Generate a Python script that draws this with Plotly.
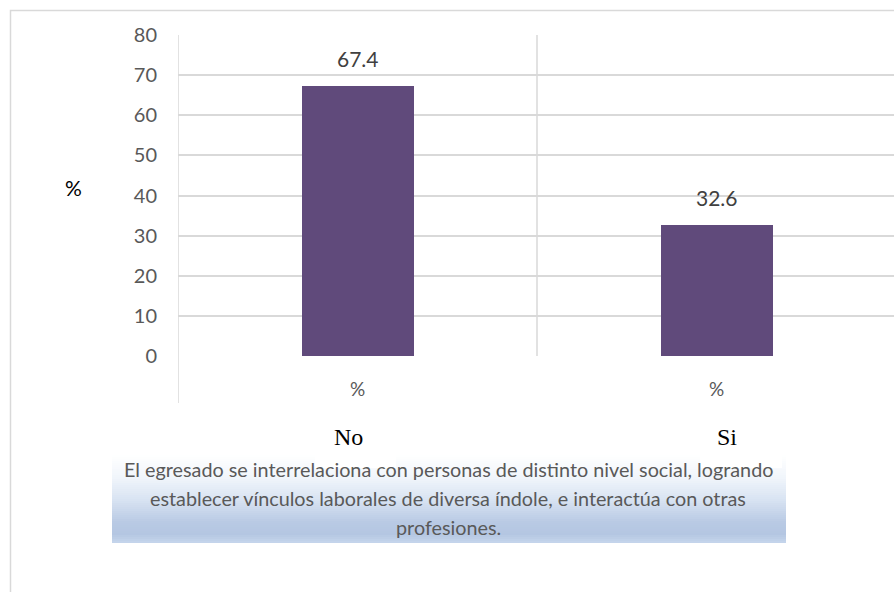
import plotly.graph_objects as go

categories = ["No", "Si"]
inner_labels = ["%", "%"]
values = [67.4, 32.6]
value_labels = ["67.4", "32.6"]
y_ticks = [0, 10, 20, 30, 40, 50, 60, 70, 80]
y_title = "%"
caption_lines = [
    "El egresado se interrelaciona con personas de distinto nivel social, logrando",
    "establecer vínculos laborales de diversa índole, e interactúa con otras",
    "profesiones.",
]

W, H = 894, 592
def px(x):
    return x / W
def py(y):
    return 1 - y / H

GRID = "#D9D9D9"
FONT = "Lato"
xs = list(range(len(categories)))

fig = go.Figure()
fig.add_trace(go.Bar(
    x=xs, y=values, width=0.312,
    marker=dict(color="#604A7B", line=dict(width=0)),
    hoverinfo="skip", showlegend=False,
))

shapes = []
# outer chart border
shapes.append(dict(type="rect", xref="paper", yref="paper",
                   x0=px(10.5), x1=px(W + 20), y0=py(10.5), y1=py(H + 20),
                   line=dict(color=GRID, width=1.5), fillcolor="rgba(0,0,0,0)", layer="below"))
# vertical category separators
for i in range(len(categories)):
    shapes.append(dict(type="line", xref="x", yref="y", x0=i - 0.5, x1=i - 0.5,
                       y0=0, y1=80, line=dict(color=GRID, width=1.5), layer="below"))
# left divider extending below axis (multi-level axis)
shapes.append(dict(type="line", xref="x", yref="paper", x0=-0.5, x1=-0.5,
                   y0=py(356), y1=py(403), line=dict(color=GRID, width=1.5)))

# gradient caption box
stops = [(455, (255, 255, 255)), (478, (240, 245, 251)), (500, (216, 227, 242)),
         (522, (185, 202, 228)), (534, (180, 198, 226)), (543, (198, 214, 236))]
def col_at(y):
    for (ya, ca), (yb, cb) in zip(stops[:-1], stops[1:]):
        if ya <= y <= yb:
            t = (y - ya) / (yb - ya)
            c = [round(ca[k] + (cb[k] - ca[k]) * t) for k in range(3)]
            return "rgb(%d,%d,%d)" % tuple(c)
    return "rgb(%d,%d,%d)" % stops[-1][1]
y = 455
while y < 543:
    shapes.append(dict(type="rect", xref="paper", yref="paper",
                       x0=px(112), x1=px(786), y0=py(y), y1=py(min(y + 3, 543)),
                       line=dict(width=0), fillcolor=col_at(y + 1)))
    y += 2
# white patches from the category text boxes
for (a, b) in [(315, 396), (700, 782)]:
    shapes.append(dict(type="rect", xref="paper", yref="paper",
                       x0=px(a), x1=px(b), y0=py(455), y1=py(468),
                       line=dict(width=0), fillcolor="white"))

annotations = []
for i, (v, t) in enumerate(zip(values, value_labels)):
    annotations.append(dict(x=i, y=v, xref="x", yref="y", text=t, showarrow=False,
                            xanchor="center", yanchor="bottom", yshift=13,
                            font=dict(family=FONT, size=21, color="#404040")))
for i, t in enumerate(inner_labels):
    annotations.append(dict(x=i, y=py(388), xref="x", yref="paper", text=t, showarrow=False,
                            xanchor="center", yanchor="middle",
                            font=dict(family=FONT, size=19, color="#595959")))
cat_x = [348, 727]
for cx, t in zip(cat_x, categories):
    annotations.append(dict(x=px(cx), y=py(437), xref="paper", yref="paper", text=t,
                            showarrow=False, xanchor="center", yanchor="middle",
                            font=dict(family="Liberation Serif", size=24, color="black")))
annotations.append(dict(x=px(73), y=py(187), xref="paper", yref="paper", text=y_title,
                        showarrow=False, xanchor="center", yanchor="middle",
                        font=dict(family=FONT, size=21, color="black")))
for k, line in enumerate(caption_lines):
    annotations.append(dict(x=px(448), y=py(469 + 29 * k), xref="paper", yref="paper",
                            text=line, showarrow=False, xanchor="center", yanchor="middle",
                            font=dict(family=FONT, size=19.8, color="#595959")))

fig.update_layout(
    width=W, height=H, margin=dict(l=0, r=0, t=0, b=0, pad=0, autoexpand=False),
    paper_bgcolor="white", plot_bgcolor="white",
    shapes=shapes, annotations=annotations, bargap=0, showlegend=False,
    xaxis=dict(domain=[px(178), 1], range=[-0.5, -0.5 + (W - 178) / 359.0],
               showticklabels=False, showgrid=False, zeroline=False, showline=False,
               fixedrange=True, automargin=False),
    yaxis=dict(domain=[py(356), py(35)], range=[0, 80], tickvals=y_ticks,
               showgrid=True, gridcolor=GRID, gridwidth=1.5, zeroline=False,
               showline=False, ticks="", ticklabelstandoff=20, automargin=False,
               tickfont=dict(family=FONT, size=20, color="#595959"), fixedrange=True),
)

fig.write_html("out.html")
